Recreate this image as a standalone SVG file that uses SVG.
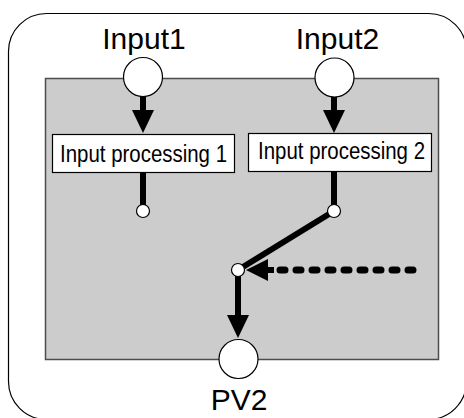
<svg xmlns="http://www.w3.org/2000/svg" width="464" height="418" viewBox="0 0 464 418">
  <style>
    .frame { fill: #ffffff; stroke: #000000; stroke-width: 1.2; }
    .panel { fill: #cccccc; stroke: #4d4d4d; stroke-width: 1.5; }
    .port { fill: #ffffff; stroke: #000000; stroke-width: 1.2; }
    .dot { fill: #ffffff; stroke: #000000; stroke-width: 1.2; }
    .box { fill: #ffffff; stroke: #000000; stroke-width: 1.2; }
    .wire { fill: none; stroke: #000000; stroke-width: 6; }
    .dash { fill: none; stroke: #000000; stroke-width: 7; stroke-linecap: round; stroke-dasharray: 5 11; }
    .head { fill: #000000; }
    .label { font-family: "Liberation Sans", Arial, sans-serif; font-size: 30px; fill: #000000; text-anchor: middle; }
    .boxtext { font-family: "Liberation Sans", Arial, sans-serif; font-size: 23.5px; fill: #000000; }
  </style>

  <!-- outer frame and processing area -->
  <rect class="frame" x="8.5" y="13.5" width="458" height="406" rx="38" ry="38"/>
  <rect class="panel" x="45.5" y="78.5" width="393" height="281"/>

  <!-- connectors -->
  <g id="connectors">
    <!-- Input1 -> Input processing 1 -->
    <line class="wire" x1="143" y1="95" x2="143" y2="112"/>
    <polygon class="head" points="132,110 154,110 143,133"/>
    <!-- Input2 -> Input processing 2 -->
    <line class="wire" x1="334" y1="96" x2="334" y2="112"/>
    <polygon class="head" points="323,110 345,110 334,133"/>
    <!-- processing outputs -->
    <line class="wire" x1="143" y1="173" x2="143" y2="211"/>
    <line class="wire" x1="334" y1="172" x2="334" y2="211"/>
    <!-- switch contact -->
    <line class="wire" x1="334" y1="211" x2="238" y2="270"/>
    <!-- switch -> PV2 -->
    <line class="wire" x1="238" y1="270" x2="238" y2="317"/>
    <polygon class="head" points="227,315 249,315 238,338"/>
    <!-- external selection signal (dashed) -->
    <line class="dash" x1="413" y1="270" x2="272" y2="270"/>
    <polygon class="head" points="246,270 268,259 268,281"/>
    <line class="wire" x1="266" y1="270" x2="274" y2="270"/>
  </g>

  <g id="dot1"><circle class="dot" cx="143" cy="211" r="6.5"/></g>
  <g id="dot2"><circle class="dot" cx="334" cy="211" r="6.5"/></g>
  <g id="dot3"><circle class="dot" cx="238" cy="270" r="6.5"/></g>

  <g id="input1">
    <circle class="port" cx="143" cy="77" r="19.5"/>
    <text class="label" x="144" y="49">Input1</text>
  </g>
  <g id="input2">
    <circle class="port" cx="334.5" cy="77.5" r="19.5"/>
    <text class="label" x="337.5" y="49">Input2</text>
  </g>

  <g id="proc1">
    <rect class="box" x="52.5" y="134.5" width="182" height="38"/>
    <text class="boxtext" x="60" y="162" textLength="167" lengthAdjust="spacingAndGlyphs">Input processing 1</text>
  </g>
  <g id="proc2">
    <rect class="box" x="248.5" y="133.5" width="183" height="38"/>
    <text class="boxtext" x="258" y="159" textLength="167" lengthAdjust="spacingAndGlyphs">Input processing 2</text>
  </g>

  <g id="pv2">
    <circle class="port" cx="238.5" cy="359" r="19.5"/>
    <text class="label" x="239" y="410">PV2</text>
  </g>
</svg>
